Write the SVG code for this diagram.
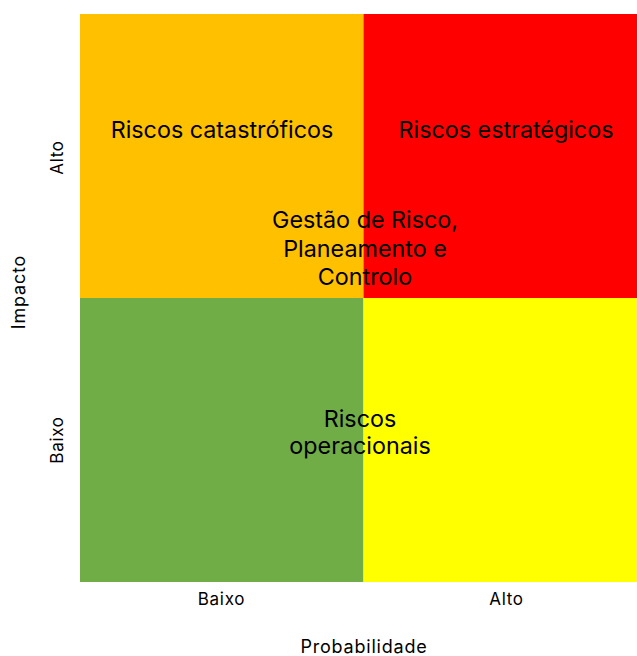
<svg xmlns="http://www.w3.org/2000/svg" width="637" height="656" viewBox="0 0 637 656">
<style>
.t{font-family:Inter,"Liberation Sans",Arial,sans-serif;fill:#000;text-anchor:middle}
.q{font-size:23.3px}
.a{font-size:17px;letter-spacing:0.7px}
.l{font-size:18px;letter-spacing:0.8px}
</style>
<rect width="637" height="656" fill="#fff"/>
<g id="q-catastroficos"><rect x="80" y="14" width="283.5" height="284" fill="#FFC000"/><text class="t q" x="222" y="137.7">Riscos catastróficos</text></g>
<g id="q-estrategicos"><rect x="363.5" y="14" width="273.5" height="284" fill="#FF0000"/><text class="t q" x="506" y="137.7">Riscos estratégicos</text></g>
<g id="q-verde"><rect x="80" y="298" width="283.5" height="284" fill="#70AD47"/></g>
<g id="q-amarelo"><rect x="363.5" y="298" width="273.5" height="284" fill="#FFFF00"/></g>
<g id="center"><text class="t q" x="365" y="228">Gestão de Risco,</text><text class="t q" x="365" y="256.5">Planeamento e</text><text class="t q" x="365" y="284.5">Controlo</text></g>
<g id="operacionais"><text class="t q" x="360" y="426.7">Riscos</text><text class="t q" x="360" y="454">operacionais</text></g>
<g id="axes">
<text class="t a" x="221.5" y="604.5">Baixo</text>
<text class="t a" x="506.5" y="604.5">Alto</text>
<text class="t l" x="364" y="653.3">Probabilidade</text>
<text class="t a" transform="translate(63,157.5) rotate(-90)">Alto</text>
<text class="t a" transform="translate(63,440) rotate(-90)">Baixo</text>
<text class="t l" transform="translate(25,292) rotate(-90)">Impacto</text>
</g>
<g id="connectors"></g>
</svg>
